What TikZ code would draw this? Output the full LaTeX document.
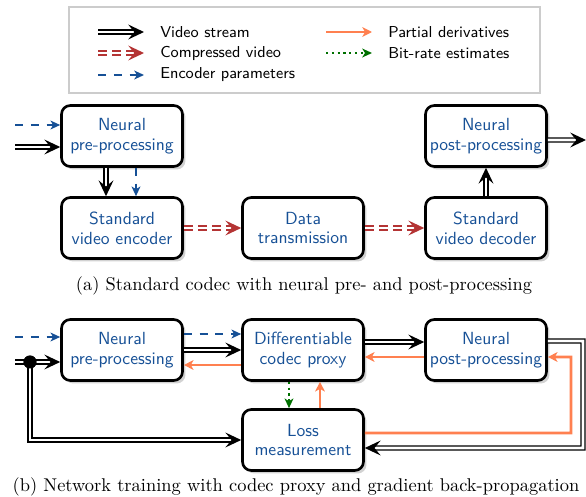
\documentclass[tikz,border=0pt]{standalone}
\usetikzlibrary{arrows.meta,shadows}

\definecolor{procblue}{RGB}{22,80,150}
\definecolor{bitred}{RGB}{180,52,52}
\definecolor{gradorange}{RGB}{255,128,80}
\definecolor{rategreen}{RGB}{0,112,0}

\tikzset{
	block/.style={draw,line width=1.5pt,rounded corners=5pt,fill=white,
		minimum width=2.42cm,minimum height=1.22cm,align=center,inner sep=2pt,
		text=procblue,font=\sffamily\fontsize{10}{11.2}\selectfont,
		drop shadow={shadow xshift=1.7pt,shadow yshift=-1.7pt,fill=black!35}},
	video/.style={double,line width=0.75pt,double distance=1.6pt,
		-{Stealth[length=9pt,width=8.5pt,inset=3.5pt]}},
	compressed/.style={draw=bitred,double,line width=0.75pt,double distance=1.6pt,
		dash pattern=on 5pt off 3pt,
		-{Stealth[length=9pt,width=8.5pt,inset=3.5pt,bitred]}},
	encparam/.style={draw=procblue,line width=1.5pt,dash pattern=on 4.5pt off 4.5pt,
		-{Stealth[length=5.5pt,width=5pt,inset=1.5pt,procblue]}},
	gradient/.style={draw=gradorange,line width=1.5pt,
		-{Stealth[length=5.5pt,width=5.5pt,inset=1.5pt,gradorange]}},
	bitrate/.style={draw=rategreen,line width=1.3pt,dotted,
		-{Stealth[length=5.5pt,width=5pt,inset=1.5pt,rategreen]}},
	legendtext/.style={anchor=west,font=\sffamily\small,inner sep=0pt},
	caption/.style={font=\fontsize{10.5}{12}\selectfont}
}

\begin{document}
\begin{tikzpicture}[x=0.02cm,y=-0.02cm]
	\useasboundingbox (0,0) rectangle (586,497);

	% legend
	\draw[black!20,line width=0.6pt] (69,7) rectangle (540,93);
	\node[legendtext] (lgVideo) at (160,32) {Video stream};
	\node[legendtext] (lgComp) at (160,53) {Compressed video};
	\node[legendtext] (lgEnc) at (160,75) {Encoder parameters};
	\node[legendtext] (lgGrad) at (388,32) {Partial derivatives};
	\node[legendtext] (lgRate) at (388,53) {Bit-rate estimates};
	\draw[video] ([xshift=-1.24cm]lgVideo.west) -- ([xshift=-0.32cm]lgVideo.west);
	\draw[compressed] ([xshift=-1.24cm]lgComp.west) -- ([xshift=-0.32cm]lgComp.west);
	\draw[encparam] ([xshift=-1.24cm]lgEnc.west) -- ([xshift=-0.32cm]lgEnc.west);
	\draw[gradient] ([xshift=-1.24cm]lgGrad.west) -- ([xshift=-0.32cm]lgGrad.west);
	\draw[bitrate] ([xshift=-1.24cm]lgRate.west) -- ([xshift=-0.32cm]lgRate.west);

	% (a) standard codec
	\node[block] (preA) at (122,136) {Neural\\pre-processing};
	\node[block] (encA) at (122,228) {Standard\\video encoder};
	\node[block] (transA) at (303,228) {Data\\transmission};
	\node[block] (decA) at (486,228) {Standard\\video decoder};
	\node[block] (postA) at (486,136) {Neural\\post-processing};
	\coordinate (paramInA) at (15,125);
	\coordinate (videoInA) at (15,147);
	\coordinate (videoOutA) at (586,140);

	\draw[encparam] (paramInA) -- (paramInA -| preA.west);
	\draw[video] (videoInA) -- (videoInA -| preA.west);
	\draw[video] ([xshift=-0.32cm]preA.south) -- ([xshift=-0.32cm]encA.north);
	\draw[encparam] ([xshift=0.28cm]preA.south) -- ([xshift=0.28cm]encA.north);
	\draw[compressed] (encA) -- (transA);
	\draw[compressed] (transA) -- (decA);
	\draw[video] (decA) -- (postA);
	\draw[video] ([yshift=-0.08cm]postA.east) -- (videoOutA);

	\node[caption] (capA) at (304,286) {(a) Standard codec with neural pre- and post-processing};

	% (b) training
	\node[block] (preB) at (122,350) {Neural\\pre-processing};
	\node[block] (proxyB) at (303,350) {Differentiable\\codec proxy};
	\node[block] (postB) at (486,350) {Neural\\post-processing};
	\node[block] (lossB) at (303,440) {Loss\\measurement};
	\coordinate (paramInB) at (15,337);
	\coordinate (videoInB) at (15,362);
	\coordinate (videoTurnB) at (583,448);
	\coordinate (gradTurnB) at (571,433);

	\draw[encparam] (paramInB) -- (paramInB -| preB.west);
	\draw[video] (videoInB) -- (videoInB -| preB.west);
	\draw[encparam] ([yshift=0.32cm]preB.east) -- ([yshift=0.32cm]proxyB.west);
	\draw[video] (preB) -- (proxyB);
	\draw[gradient] ([yshift=-0.3cm]proxyB.west) -- ([yshift=-0.3cm]preB.east);
	\draw[video] ([yshift=0.16cm]proxyB.east) -- ([yshift=0.16cm]postB.west);
	\draw[gradient] ([yshift=-0.14cm]postB.west) -- ([yshift=-0.14cm]proxyB.east);
	\draw[bitrate] ([xshift=-0.28cm]proxyB.south) -- ([xshift=-0.28cm]lossB.north);
	\draw[gradient] ([xshift=0.34cm]lossB.north) -- ([xshift=0.34cm]proxyB.south);
	\draw[video] ([yshift=0.18cm]postB.east) -| (videoTurnB) -- ([yshift=-0.16cm]lossB.east);
	\draw[gradient] ([yshift=0.14cm]lossB.east) -- (gradTurnB) |- ([yshift=-0.14cm]postB.east);
	\node[circle,fill,inner sep=0pt,minimum size=0.26cm] (splitB) at (30,362) {};
	\draw[video] (splitB.center) |- (lossB.west);
	\fill (splitB) circle (0.13cm);

	\node[caption] (capB) at (296,487) {(b) Network training with codec proxy and gradient back-propagation};
\end{tikzpicture}
\end{document}
